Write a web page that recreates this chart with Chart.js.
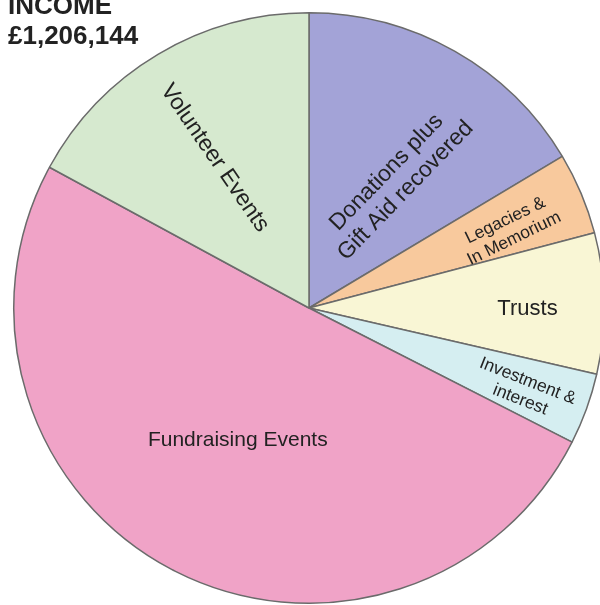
<!DOCTYPE html>
<html>
<head>
<meta charset="utf-8">
<script src="https://cdn.jsdelivr.net/npm/chart.js@4"></script>
<style>
  html, body { margin: 0; padding: 0; background: #fff; overflow: hidden; }
  #wrap { position: relative; width: 610px; height: 605px; }
  #titulo {
    position: absolute; left: 8px; top: -10px; z-index: 2;
    font: bold 26px "Liberation Sans", Arial, sans-serif;
    line-height: 30px; color: #222;
  }
</style>
</head>
<body>
<div id="wrap">
  <div id="titulo">INCOME<br>£1,206,144</div>
  <canvas id="grafico" width="610" height="605"></canvas>
</div>
<script>
// Datos del gráfico (libras)
const categorias = [
  ["Donations plus", "Gift Aid recovered"],
  ["Legacies &", "In Memorium"],
  ["Trusts"],
  ["Investment &", "interest"],
  ["Fundraising Events"],
  ["Volunteer Events"]
];
const valores = [198000, 54000, 93000, 47000, 608000, 206144];
const colores = ["#a3a3d7", "#f8c99d", "#f9f6d5", "#d5eef1", "#f0a3c7", "#d6e9cf"];

// Estilo de las etiquetas: desplazamiento angular (grados), radio relativo, giro, tamaño
const etiquetaDesfase = [5, 1.5, 1.25, 1, 0.5, -1.4];
const etiquetaRadio = [0.52, 0.73, 0.74, 0.78, 0.51, 0.60];
const etiquetaGiro = [-46, -26, 0, 21.5, 0, 55.5];
const etiquetaTam = [23, 17.5, 22, 17.5, 21, 23];

const ctx = document.getElementById("grafico");

// Plugin para escribir las etiquetas dentro de cada porción
const etiquetas = {
  id: "etiquetas",
  afterDatasetsDraw(chart) {
    const g = chart.ctx;
    const arcos = chart.getDatasetMeta(0).data;
    arcos.forEach((arco, i) => {
      const medio = (arco.startAngle + arco.endAngle) / 2 + etiquetaDesfase[i] * Math.PI / 180;
      const r = arco.outerRadius * etiquetaRadio[i];
      const x = arco.x + Math.cos(medio) * r;
      const y = arco.y + Math.sin(medio) * r;
      const lineas = categorias[i];
      const tam = etiquetaTam[i];
      const alto = tam * 1.15;
      g.save();
      g.translate(x, y);
      g.rotate(etiquetaGiro[i] * Math.PI / 180);
      g.font = tam + 'px "Liberation Sans", Arial, sans-serif';
      g.fillStyle = "#222";
      g.textAlign = "center";
      g.textBaseline = "middle";
      lineas.forEach((txt, j) => {
        g.fillText(txt, 0, (j - (lineas.length - 1) / 2) * alto);
      });
      g.restore();
    });
  }
};

new Chart(ctx, {
  type: "pie",
  data: {
    labels: categorias.map(c => c.join(" ")),
    datasets: [{
      data: valores,
      backgroundColor: colores,
      borderColor: "#6b6b6b",
      borderWidth: 1.5
    }]
  },
  options: {
    responsive: false,
    animation: false,
    layout: { padding: { left: 13, right: 5, top: 12, bottom: 1 } },
    plugins: {
      legend: { display: false },
      tooltip: { enabled: false }
    }
  },
  plugins: [etiquetas]
});
</script>
</body>
</html>
